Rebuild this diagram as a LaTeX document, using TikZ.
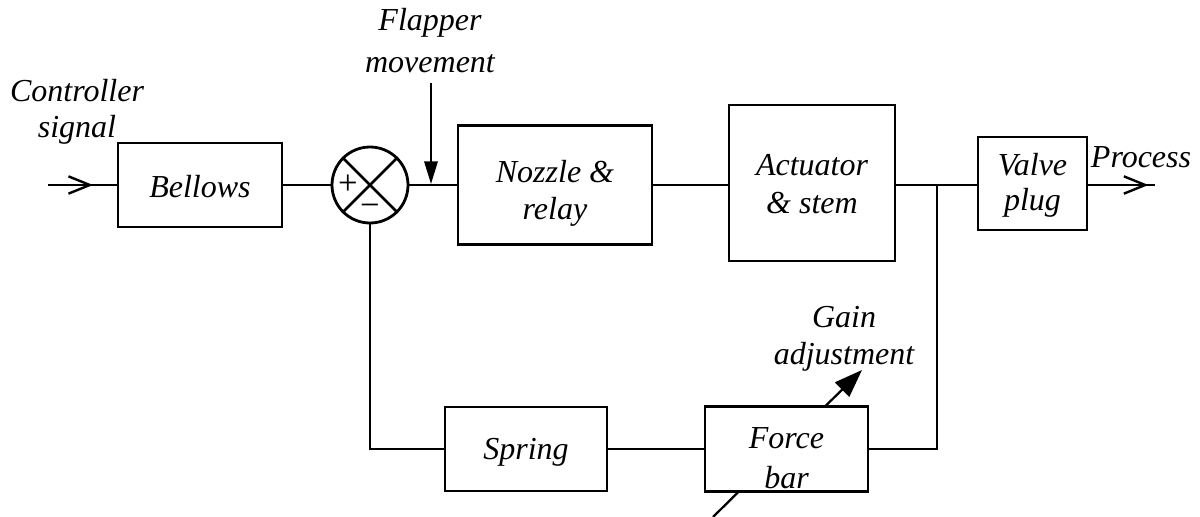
\documentclass[tikz,border=0pt]{standalone}
\usepackage{fontspec}
\setmainfont{Liberation Serif}
\usetikzlibrary{arrows.meta,backgrounds,calc}
\begin{document}
\begin{tikzpicture}[x=0.75pt,y=-0.75pt,
  wire/.style={line width=2.1pt},
  block/.style={draw, line width=2.1pt, fill=white, inner sep=0pt},
  lbl/.style={inner sep=0pt, align=center, font=\itshape\fontsize{24}{#1}\selectfont},
  lbl/.default=27pt,
  sign/.style={inner sep=0pt, font=\fontsize{26}{26}\selectfont},
  barb/.style={wire, -{Straight Barb[length=16pt,width=13pt,line width=1.8pt]}},
  solidtip/.style={line width=1.7pt, -{Triangle[length=#1]}},
]
\useasboundingbox (0,0) rectangle (1200,517);

% blocks
\node[block, minimum width=123pt, minimum height=63pt] (bel) at (200,185) {};
\node[block, circle, minimum size=57pt] (sum) at (370,185) {};
\node[block, minimum width=145.5pt, minimum height=89.25pt] (nz) at (555,185) {};
\node[block, minimum width=124.5pt, minimum height=117pt] (act) at (812,183) {};
\node[block, minimum width=81.75pt, minimum height=69.75pt] (vp) at (1032.5,183.5) {};
\node[block, minimum width=121.5pt, minimum height=63pt] (spr) at (526,449) {};
\node[block, minimum width=122.25pt, minimum height=63.75pt] (fb) at (786.5,449) {};

% block texts
\node[lbl] (belt) at (200,187) {Bellows};
\node[lbl=27.75pt] (nzt) at (555,193) {Nozzle \&\\relay};
\node[lbl=28.5pt] (actt) at (812,184.5) {Actuator\\\& stem};
\node[lbl=26.25pt] (vpt) at (1032.5,185.5) {Valve\\plug};
\node[lbl] (sprt) at (526,452.5) {Spring};
\node[lbl=30pt] (fbt) at (786.5,458.5) {Force\\bar};

% summing junction
\draw[wire] (sum.north west) -- (sum.south east);
\draw[wire] (sum.north east) -- (sum.south west);
\node[sign] (plus) at (348,185) {+};
\node[sign] (minus) at (370,210) {−};

% free ends and branch points
\coordinate (in) at (48,185);
\coordinate (out) at (1155,185);
\coordinate (fm) at (431,83);
\coordinate (fmend) at (431,184);
\coordinate (tap) at (937,185);
\coordinate (gs) at (713,517);
\coordinate (ge) at (862,370);

% forward path
\draw[wire] (in) -- (bel.west);
\draw[barb] (in) -- ++(45,0);
\draw[wire] (bel.east) -- (sum.west);
\draw[wire] (sum.east) -- (nz.west);
\draw[wire] (nz.east) -- (nz.east -| act.west);
\draw[wire] (act.east |- tap) -- (vp.west |- tap);
\draw[wire] (vp.east |- out) -- (out);
\draw[barb] (vp.east |- out) -- ++(60,0);

% feedback path
\draw[wire] (tap) |- (fb.east);
\draw[wire] (fb.west) -- (spr.east);
\draw[wire] (spr.west) -| (sum.south);

% disturbance inputs
\draw[solidtip={17pt 0 0,width=10pt}] (fm) -- (fmend);
\begin{scope}[on background layer]
\draw[solidtip={21pt 0 0,width=15pt}] (gs) -- (ge);
\end{scope}

% outer labels
\node[lbl=27pt] (ctl) at (77,112) {Controller\\signal};
\node[lbl=31pt] (flp) at (430,40.5) {Flapper\\movement};
\node[lbl=27.5pt] (gain) at (844,338.5) {Gain\\adjustment};
\node[lbl] (proc) at (1141,157) {Process};
\end{tikzpicture}
\end{document}
